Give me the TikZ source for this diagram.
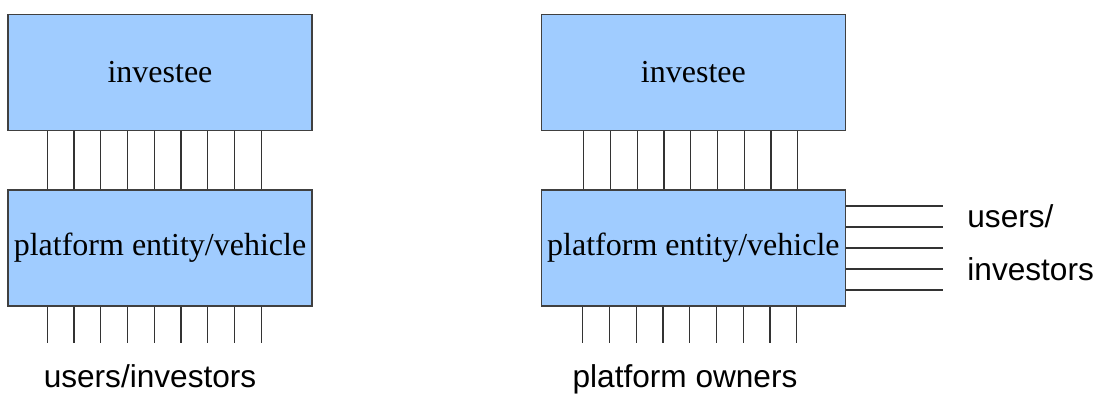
\documentclass[tikz,border=0pt]{standalone}
\usepackage{fontspec}
\setmainfont{Liberation Serif}
\setsansfont{Liberation Sans}
\usetikzlibrary{positioning,calc}
\definecolor{boxblue}{RGB}{160,204,255}
\tikzset{
	block/.style={draw=black!75,fill=boxblue,line width=0.7pt,minimum width=152pt,minimum height=58pt,inner sep=0pt,font=\fontsize{16}{19}\selectfont},
	wire/.style={draw=black!80,line width=0.6pt},
	tag/.style={font=\sffamily\fontsize{15.8}{18}\selectfont,inner sep=0pt}
}
% nine wires from #1 down to #2, first one #3 in from the left edge
\newcommand{\bundle}[3]{
	\foreach \i in {0,...,8}
		\draw [wire] ($(#1.south west)+({#3+26.75*\i},0)$) -- ($(#2.north west)+({#3+26.75*\i},0)$);
}
% nine loose wires hanging below #1
\newcommand{\fringe}[2]{
	\foreach \i in {0,...,8}
		\draw [wire] ($(#1.south west)+({#2+26.75*\i},0)$) -- ++(0,36);
}

\begin{document}
\begin{tikzpicture}[x=0.5pt,y=-0.5pt]
	\useasboundingbox (0,0) rectangle (1096,396);

	% left: users hold the platform directly
	\node [block] (invL) at (160,72.5) {investee};
	\node [block,below=29pt of invL] (platL) {platform entity/vehicle};
	\bundle{invL}{platL}{40};
	\fringe{platL}{40};
	\node [tag,anchor=base] (usersL) at (150,387) {users/investors};

	% right: owners below, users on the side
	\node [block,right=114pt of invL] (invR) {investee};
	\node [block,below=29pt of invR] (platR) {platform entity/vehicle};
	\bundle{invR}{platR}{43};
	\fringe{platR}{42};
	\foreach \dy in {-42,-21,0,21,42}
		\draw [wire] ($(platR.east)+(0,\dy)$) -- ++(97,0);
	\node [tag,anchor=base west] (usersR) at (967,227) {users/};
	\node [tag,anchor=base west] (investR) at (967,280) {investors};
	\node [tag,anchor=base] (owners) at (685,387) {platform owners};
\end{tikzpicture}
\end{document}
